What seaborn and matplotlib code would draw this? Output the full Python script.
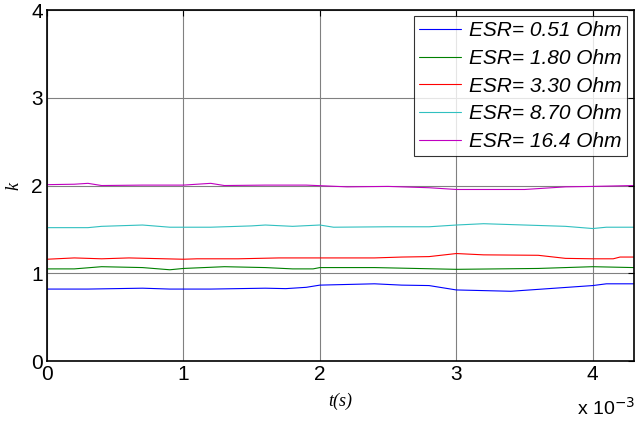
import numpy as np
import pandas as pd
import matplotlib
matplotlib.use("Agg")
import matplotlib.pyplot as plt
import seaborn as sns

# ---- data (t in ms units, scaled by 1e-3 on axis) ----
labels = ["ESR= 0.51 Ohm", "ESR= 1.80 Ohm", "ESR= 3.30 Ohm", "ESR= 8.70 Ohm", "ESR= 16.4 Ohm"]

t_blue = [0, 0.3, 0.7, 0.9, 1.2, 1.6, 1.75, 1.9, 2.0, 2.4, 2.6, 2.8, 3.0, 3.4, 4.0, 4.1, 4.3]
k_blue = [0.82, 0.82, 0.83, 0.82, 0.82, 0.83, 0.825, 0.84, 0.865, 0.88, 0.865, 0.86, 0.81, 0.795, 0.86, 0.88, 0.88]

t_green = [0, 0.2, 0.4, 0.7, 0.9, 1.0, 1.3, 1.6, 1.8, 1.95, 2.0, 2.4, 2.7, 3.0, 3.3, 3.6, 4.0, 4.3]
k_green = [1.05, 1.05, 1.075, 1.065, 1.04, 1.055, 1.075, 1.065, 1.05, 1.05, 1.065, 1.065, 1.055, 1.045, 1.05, 1.055, 1.075, 1.065]

t_red = [0, 0.2, 0.4, 0.6, 1.0, 1.1, 1.4, 1.7, 2.0, 2.4, 2.6, 2.8, 3.0, 3.2, 3.6, 3.8, 4.0, 4.15, 4.2, 4.3]
k_red = [1.16, 1.175, 1.165, 1.175, 1.16, 1.165, 1.165, 1.175, 1.175, 1.175, 1.185, 1.19, 1.225, 1.21, 1.205, 1.17, 1.165, 1.165, 1.185, 1.185]

t_cyan = [0, 0.3, 0.4, 0.7, 0.9, 1.2, 1.5, 1.6, 1.8, 2.0, 2.1, 2.5, 2.8, 3.0, 3.2, 3.5, 3.8, 4.0, 4.1, 4.3]
k_cyan = [1.52, 1.52, 1.535, 1.55, 1.525, 1.525, 1.54, 1.55, 1.535, 1.55, 1.525, 1.53, 1.53, 1.55, 1.565, 1.55, 1.535, 1.51, 1.525, 1.525]

t_mag = [0, 0.2, 0.3, 0.4, 0.7, 1.0, 1.2, 1.3, 1.6, 1.9, 2.2, 2.5, 2.8, 3.0, 3.5, 3.8, 4.0, 4.3]
k_mag = [2.01, 2.015, 2.025, 2.0, 2.005, 2.005, 2.025, 2.0, 2.005, 2.005, 1.985, 1.99, 1.975, 1.955, 1.955, 1.985, 1.99, 2.0]

series_t = [t_blue, t_green, t_red, t_cyan, t_mag]
series_k = [k_blue, k_green, k_red, k_cyan, k_mag]
colors = ["#0000ff", "#008000", "#ff0000", "#30c0c0", "#c000c0"]

rows = []
for lab, ts, ks in zip(labels, series_t, series_k):
    for t, k in zip(ts, ks):
        rows.append({"t": t, "k": k, "series": lab})
df = pd.DataFrame(rows)

sns.set_style("white")
plt.rcParams['font.family'] = ['Liberation Sans', 'DejaVu Sans']
plt.rcParams['text.color'] = 'black'
plt.rcParams['axes.labelcolor'] = 'black'
plt.rcParams['xtick.color'] = 'black'
plt.rcParams['ytick.color'] = 'black'

fig = plt.figure(figsize=(6.37, 4.28), dpi=100)
ax = fig.add_axes([0.0738, 0.1565, 0.921, 0.82])

sns.lineplot(data=df, x="t", y="k", hue="series", palette=colors,
             hue_order=labels, linewidth=0.8, ax=ax, sort=False, estimator=None)

ax.set_xlim(0, 4.3)
ax.set_ylim(0, 4)
ax.set_xticks([0, 1, 2, 3, 4])
ax.set_yticks([0, 1, 2, 3, 4])
ax.grid(True, color="#808080", linewidth=0.8)
ax.set_axisbelow(True)
ax.tick_params(direction="in", length=4, top=True, right=True, labelsize=15, pad=3,
               color="black", width=0.8)
for s in ax.spines.values():
    s.set_color("black")
    s.set_linewidth(1.2)

ax.set_xlabel("t(s)", family=["Liberation Serif"], style="italic", fontsize=13, labelpad=6)
ax.set_ylabel("k", family=["Liberation Serif"], style="italic", fontsize=13, labelpad=6)

fig.text(0.997, 0.022, r"x 10$^{-3}$", ha="right", va="bottom", fontsize=14)

leg = ax.legend(loc="upper right", frameon=True, fancybox=False, edgecolor="black",
                prop={"style": "italic", "size": 15}, handlelength=2.0,
                borderpad=0.25, labelspacing=0.42, handletextpad=0.4,
                bbox_to_anchor=(0.988, 0.983), borderaxespad=0)
leg.get_frame().set_linewidth(0.8)

fig.savefig("out.png", dpi=100)
